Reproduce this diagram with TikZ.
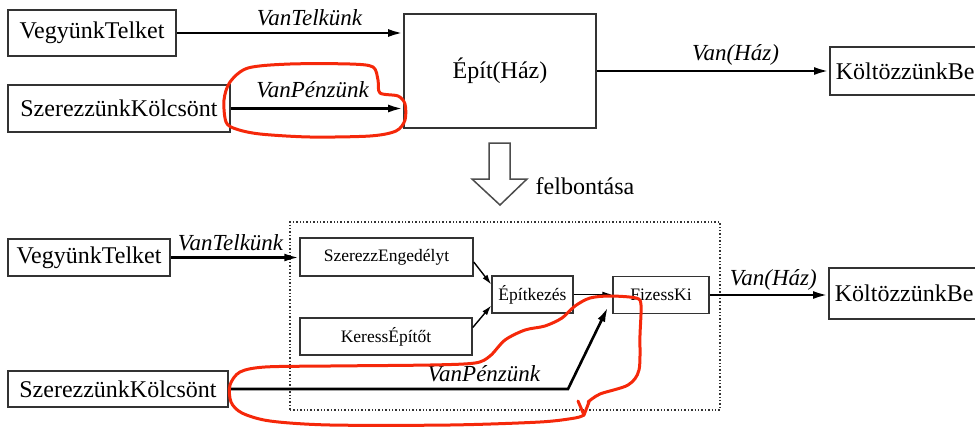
\documentclass[tikz,border=0pt]{standalone}
\usepackage{fontspec}
\setmainfont{Liberation Serif}
\usetikzlibrary{arrows.meta,calc}
\definecolor{markred}{RGB}{245,40,10}
\begin{document}
\begin{tikzpicture}[x=1pt,y=-1pt,
  box/.style={draw=black!80, line width=1.8pt, rectangle, inner sep=0pt,
    font=\fontsize{24}{28}\selectfont},
  openbox/.style={box, anchor=west, inner xsep=6pt},
  sbox/.style={draw=black!80, line width=1.5pt, rectangle, inner sep=0pt,
    font=\fontsize{17.5}{21}\selectfont},
  arr/.style={line width=2.6pt, -{Latex[length=15pt,width=8pt]}},
  sarr/.style={line width=1.4pt, -{Latex[length=10pt,width=6pt]}},
  lbl/.style={font=\fontsize{23}{27}\selectfont\itshape, inner sep=0pt, anchor=base},
  groupbox/.style={draw=black!80, line width=1.4pt, dotted, rectangle, inner sep=0pt},
  redmark/.style={draw=markred, line width=3pt, line join=round, line cap=round},
]
\useasboundingbox (0,0) rectangle (975,426);
\clip (0,0) rectangle (975,426);

% ---------- plan before decomposition ----------
\node[box, minimum width=168pt, minimum height=46pt] (vt1) at (92,33) {VegyünkTelket};
\node[box, minimum width=222pt, minimum height=47pt] (sk1) at (119,108.5) {SzerezzünkKölcsönt};
\node[box, minimum width=192pt, minimum height=114pt] (epit) at (500,71) {Épít(Ház)};
\node[openbox, minimum height=48pt] (kb1) at (829,71)
  {\makebox[175pt][l]{KöltözzünkBe}};

\draw[arr] (vt1.east) -- (vt1.east -| epit.west)
  node[lbl, pos=.586, yshift=8pt] {VanTelkünk};
\draw[arr] (sk1.east) -- (sk1.east -| epit.west)
  node[lbl, pos=.474, yshift=11pt] {VanPénzünk};
\draw[arr] (epit.east) -- (kb1.west)
  node[lbl, pos=.597, yshift=11pt] {Van(\textit{Ház})};

% ---------- decomposition arrow ----------
\draw[line width=1.5pt, draw=black!70, fill=white, line join=miter]
  (489,143) -- (510,143) -- (510,179) -- (527,179) -- (500,205)
  -- (472,179) -- (489,179) -- cycle;
\node[font=\fontsize{24}{28}\selectfont, inner sep=0pt] (felb) at (585,186) {felbontása};

% ---------- plan after decomposition ----------
\node[groupbox, minimum width=430pt, minimum height=188pt] (grp) at (505,316) {};

\node[box, minimum width=162pt, minimum height=37pt] (vt2) at (89,257.5) {VegyünkTelket};
\node[box, minimum width=220pt, minimum height=36pt] (sk2) at (118,389) {SzerezzünkKölcsönt};
\node[sbox, minimum width=173pt, minimum height=38pt] (se) at (386.5,257) {SzerezzEngedélyt};
\node[sbox, minimum width=172pt, minimum height=37pt] (ke) at (386,336.5) {KeressÉpítőt};
\node[sbox, minimum width=81pt, minimum height=37pt] (ep) at (532.5,294.5) {Építkezés};
\node[sbox, minimum width=96pt, minimum height=37pt] (fk) at (661,295) {FizessKi};
\node[openbox, minimum height=51pt] (kb2) at (828,293.5)
  {\makebox[175pt][l]{KöltözzünkBe}};

\coordinate (bend) at (568,389);
\coordinate (fkin) at (608,307);

\draw[arr] (vt2.east) -- (vt2.east -| se.west)
  node[lbl, pos=.465, yshift=7pt] {VanTelkünk};
\draw[sarr] ($(se.east)+(0,5)$) -- ($(ep.west)+(0,-10)$);
\draw[sarr] ($(ke.east)+(0,-9)$) -- ($(ep.west)+(0,11)$);
\draw[sarr] (ep.east) -- (ep.east -| fk.west);
\draw[arr] (fk.east) -- (fk.east -| kb2.west)
  node[lbl, pos=.538, yshift=10pt] {Van(\textit{Ház})};
\draw[arr, line join=miter] (sk2.east) -- (bend)
  node[lbl, pos=.752, yshift=8pt] {VanPénzünk} -- (fkin);

% ---------- hand-drawn highlights ----------
\draw[redmark] plot[smooth cycle, tension=0.5] coordinates {
  (226,122) (224,100) (230,82) (248,68) (290,64) (350,64) (373,67)
  (378,80) (380,93) (398,96) (405,104) (405,120) (396,131) (370,136)
  (310,137) (260,134) (236,129)};
\draw[redmark] plot[smooth, tension=0.5] coordinates {
  (588,402) (600,394) (628,385) (639,370) (640,335) (641,305) (636,298)
  (610,296) (590,298) (575,306) (562,318) (545,326) (525,330) (505,340)
  (490,356) (475,363) (430,365) (330,366) (265,367) (240,372) (230,385)
  (231,402) (242,413) (270,421) (330,425) (450,425) (540,422) (575,418)
  (584,415)};
\draw[redmark] (578,401) -- (584,415) -- (589,402);
\end{tikzpicture}
\end{document}
